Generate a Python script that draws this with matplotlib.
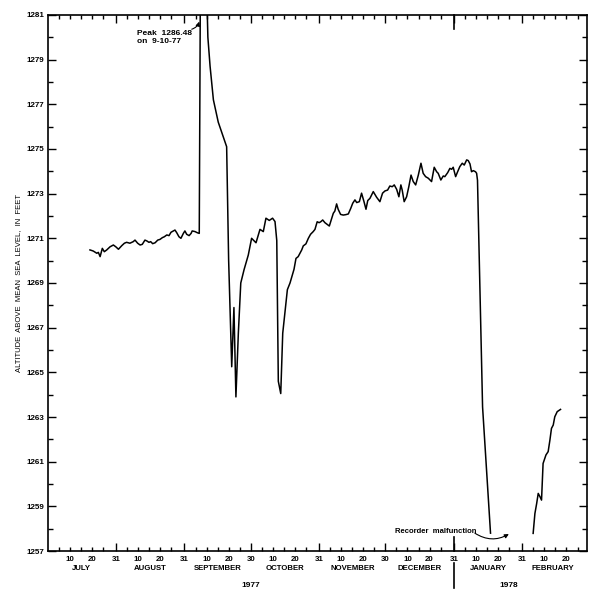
"""
Lake altitude hydrograph, July 1977 - February 1978.
"""
import numpy as np
import matplotlib
matplotlib.use("Agg")
import matplotlib.pyplot as plt

plt.rcParams["font.family"] = ["Liberation Sans", "DejaVu Sans"]
plt.rcParams["font.weight"] = "bold"

# day numbers counted with July 1, 1977 = 1
month_names = ["JULY", "AUGUST", "SEPTEMBER", "OCTOBER", "NOVEMBER",
               "DECEMBER", "JANUARY", "FEBRUARY"]
month_lengths = [31, 31, 30, 31, 30, 31, 31, 28]
year_names = ["1977", "1978"]
year_label_days = [92, 209]
year_break_day = 184  # Dec 31

main_day = [19.2, 20.7, 22.3, 23.0, 23.8, 24.8, 25.7, 26.8, 28.3, 29.8,
            30.9, 32.1, 33.6, 34.8, 35.8, 37.3, 38.8, 39.6, 40.8, 41.9,
            42.9, 44.1, 45.0, 45.9, 46.7, 47.6, 48.7, 49.9, 50.9, 52.0,
            52.9, 54.0, 55.0, 55.9, 57.0, 57.7, 58.5, 59.5, 60.4, 61.5,
            62.2, 63.0, 64.1, 65.0, 65.5, 66.8, 67.8, 68.7, 69.3, 71.0,
            72.6, 73.6, 75.1, 77.3, 80.4, 81.1, 82.0, 83.4, 84.4, 85.3,
            86.4, 87.5, 89.0, 90.9, 92.4, 94.4, 96.2, 97.7, 98.9, 100.4,
            101.9, 103.0, 103.8, 104.5, 105.6, 106.5, 108.6, 109.8, 111.6, 112.5,
            113.5, 115.1, 115.8, 117.0, 118.1, 119.1, 120.3, 121.1, 122.1, 123.0,
            123.7, 124.6, 125.6, 126.4, 127.6, 128.7, 129.4, 130.1, 130.9, 131.6,
            132.7, 133.9, 135.1, 136.2, 137.3, 138.2, 139.2, 140.0, 141.2, 142.2,
            143.3, 144.2, 145.0, 146.0, 147.5, 149.0, 150.5, 151.7, 152.8, 154.0,
            155.0, 156.1, 157.0, 158.1, 159.1, 160.0, 160.6, 161.5, 162.6, 163.6,
            164.6, 165.6, 166.7, 167.9, 169.1, 170.1, 171.2, 172.4, 173.9, 175.1,
            176.2, 176.9, 178.1, 179.2, 179.9, 181.2, 182.2, 183.0, 183.7, 184.8,
            185.7, 186.7, 187.8, 188.7, 189.8, 190.5, 191.3, 192.0, 192.8, 193.8,
            194.3, 194.7, 197.0, 200.6]
main_alt = [1270.48, 1270.43, 1270.33, 1270.37, 1270.18, 1270.55, 1270.40, 1270.48, 1270.62, 1270.70,
            1270.62, 1270.51, 1270.67, 1270.78, 1270.82, 1270.78, 1270.85, 1270.92, 1270.78, 1270.70,
            1270.73, 1270.92, 1270.88, 1270.82, 1270.85, 1270.76, 1270.80, 1270.92, 1270.95, 1271.03,
            1271.07, 1271.15, 1271.12, 1271.27, 1271.33, 1271.37, 1271.25, 1271.07, 1271.00, 1271.22,
            1271.33, 1271.18, 1271.12, 1271.22, 1271.33, 1271.30, 1271.25, 1271.22, 1284.50, 1286.48,
            1280.00, 1278.70, 1277.20, 1276.20, 1275.30, 1275.10, 1270.03, 1265.25, 1267.90, 1263.90,
            1266.75, 1269.00, 1269.60, 1270.25, 1271.00, 1270.80, 1271.40, 1271.30, 1271.90, 1271.80,
            1271.90, 1271.75, 1270.90, 1264.60, 1264.05, 1266.75, 1268.70, 1269.00, 1269.61, 1270.10,
            1270.18, 1270.48, 1270.66, 1270.75, 1271.00, 1271.18, 1271.30, 1271.40, 1271.74, 1271.70,
            1271.74, 1271.82, 1271.70, 1271.64, 1271.55, 1271.90, 1272.12, 1272.22, 1272.54, 1272.30,
            1272.07, 1272.04, 1272.06, 1272.09, 1272.34, 1272.57, 1272.72, 1272.60, 1272.64, 1273.02,
            1272.64, 1272.30, 1272.69, 1272.79, 1273.09, 1272.84, 1272.64, 1273.02, 1273.12, 1273.16,
            1273.34, 1273.31, 1273.39, 1273.19, 1272.86, 1273.39, 1273.16, 1272.64, 1272.86, 1273.31,
            1273.83, 1273.54, 1273.39, 1273.83, 1274.36, 1273.91, 1273.76, 1273.69, 1273.54, 1274.18,
            1273.98, 1273.91, 1273.61, 1273.79, 1273.76, 1273.94, 1274.13, 1274.09, 1274.18, 1273.76,
            1273.98, 1274.21, 1274.36, 1274.28, 1274.51, 1274.48, 1274.33, 1273.98, 1274.03, 1273.98,
            1273.91, 1273.60, 1263.45, 1257.80]

feb_day = [219.9, 220.7, 221.5, 222.2, 223.0, 223.7, 224.4, 225.7, 226.7, 227.5,
           228.2, 229.0, 229.7, 230.8, 232.3]
feb_alt = [1257.79, 1258.68, 1259.13, 1259.58, 1259.43, 1259.28, 1260.92, 1261.30, 1261.45, 1261.97,
           1262.49, 1262.64, 1263.01, 1263.24, 1263.34]

peak_text = "Peak  1286.48\non  9-10-77"
malfunction_text = "Recorder  malfunction"
ylabel = "ALTITUDE  ABOVE  MEAN  SEA  LEVEL,  IN  FEET"

fig = plt.figure(figsize=(6.0, 5.97), dpi=100)
ax = fig.add_axes([0.08, 0.077, 0.898, 0.898])

ax.plot(main_day, main_alt, color="black", lw=1.1)
ax.plot(feb_day, feb_alt, color="black", lw=1.1)

ax.set_xlim(0.2, 244.2)
ax.set_ylim(1257, 1281)

# x ticks: month ends long, every 5 days short
starts = np.concatenate([[0], np.cumsum(month_lengths)[:-1]])
ends = starts[:-1] + np.array(month_lengths[:-1])
ax.set_xticks(ends, labels=[str(n) for n in month_lengths[:-1]])
minor_pos, minor_lab = [], []
for s in starts:
    for d in (5, 10, 15, 20, 25):
        minor_pos.append(s + d)
        minor_lab.append(str(d) if d in (10, 20) else "")
ax.set_xticks(minor_pos, labels=minor_lab, minor=True)

ax.set_yticks(np.arange(1257, 1282, 2))
ax.set_yticks(np.arange(1258, 1281, 2), minor=True)

ax.tick_params(axis="both", which="both", direction="in", top=True, right=True, width=1.0)
ax.tick_params(axis="x", which="major", length=5.5, labelsize=5.7, pad=3.5)
ax.tick_params(axis="x", which="minor", length=3, labelsize=5.7, pad=3.5)
ax.tick_params(axis="y", which="major", length=5.5, labelsize=5.8, pad=2.5)
ax.tick_params(axis="y", which="minor", length=3.8)
for sp in ax.spines.values():
    sp.set_linewidth(1.2)

ax.set_ylabel(ylabel, fontsize=5.5)
ax.yaxis.set_label_coords(-0.049, 0.5)

xt = ax.get_xaxis_transform()
for s, n, name in zip(starts, month_lengths, month_names):
    ax.text(s + n / 2, -0.0317, name, transform=xt, ha="center", va="center", fontsize=5.6)
for d, name in zip(year_label_days, year_names):
    ax.text(d, -0.0634, name, transform=xt, ha="center", va="center", fontsize=6)

# year separator at Dec 31
for y0, y1 in [(0.974, 1.0), (0.0, 0.026), (-0.0224, -0.069)]:
    ax.plot([year_break_day, year_break_day], [y0, y1], transform=xt,
            color="black", lw=1.2, clip_on=False)

ax.text(40.5, 1280.0, peak_text, ha="left", va="center", fontsize=6, linespacing=1.3)
ax.annotate("", xy=(68.7, 1280.7), xytext=(65.3, 1280.36),
            arrowprops=dict(arrowstyle="-|>", connectionstyle="arc3,rad=0.25",
                            color="black", lw=0.8, mutation_scale=6,
                            shrinkA=0, shrinkB=0))

ax.text(157.3, 1257.86, malfunction_text, ha="left", va="center", fontsize=5.5)
ax.annotate("", xy=(208.9, 1257.76), xytext=(193.5, 1257.8),
            arrowprops=dict(arrowstyle="-|>", connectionstyle="arc3,rad=0.3",
                            color="black", lw=0.8, mutation_scale=6,
                            shrinkA=0, shrinkB=0))

fig.savefig("out.png", dpi=100)
